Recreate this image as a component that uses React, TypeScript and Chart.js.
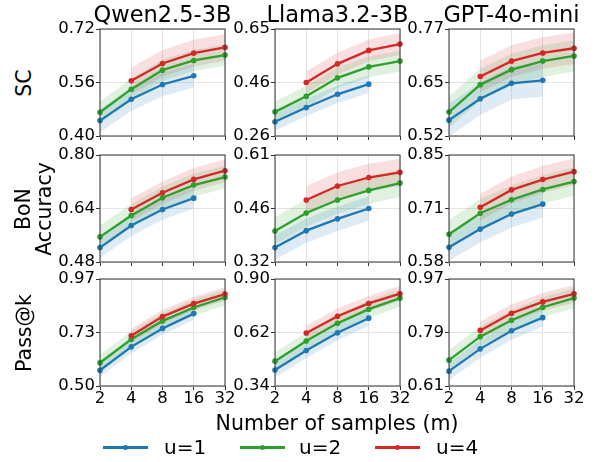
import React, { useEffect, useRef } from 'react';
import { Chart, registerables } from 'chart.js';
Chart.register(...registerables);
Chart.defaults.font.family = "'DejaVu Sans', sans-serif";

const X_LABELS = ['2', '4', '8', '16', '32'];
const MODELS = ['Qwen2.5-3B', 'Llama3.2-3B', 'GPT-4o-mini'];
const METRICS = [['SC'], ['BoN', 'Accuracy'], ['Pass@k']];
const SERIES_NAMES = ['u=1', 'u=2', 'u=4'];
const X_TITLE = 'Number of samples (m)';

// ---- SC ----
const qwenSC_u1 = [0.446, 0.51, 0.554, 0.58, null];
const qwenSC_u2 = [0.471, 0.54, 0.597, 0.626, 0.642];
const qwenSC_u4 = [null, 0.565, 0.617, 0.648, 0.665];
const qwenSC_band = [0.035, 0.032, 0.04];
const qwenSC_ticks = ['0.40', '0.56', '0.72'];

const llamaSC_u1 = [0.312, 0.364, 0.412, 0.449, null];
const llamaSC_u2 = [0.348, 0.405, 0.472, 0.512, 0.533];
const llamaSC_u4 = [null, 0.455, 0.523, 0.572, 0.595];
const llamaSC_band = [0.032, 0.038, 0.04];
const llamaSC_ticks = ['0.26', '0.46', '0.65'];

const gptSC_u1 = [0.557, 0.607, 0.643, 0.65, null];
const gptSC_u2 = [0.576, 0.64, 0.675, 0.695, 0.707];
const gptSC_u4 = [null, 0.659, 0.695, 0.714, 0.725];
const gptSC_band = [0.038, 0.037, 0.037];
const gptSC_ticks = ['0.52', '0.65', '0.77'];

// ---- BoN Accuracy ----
const qwenBoN_u1 = [0.523, 0.589, 0.637, 0.671, null];
const qwenBoN_u2 = [0.555, 0.619, 0.672, 0.71, 0.734];
const qwenBoN_u4 = [null, 0.637, 0.687, 0.727, 0.753];
const qwenBoN_band = [0.031, 0.034, 0.034];
const qwenBoN_ticks = ['0.48', '0.64', '0.80'];

const llamaBoN_u1 = [0.359, 0.405, 0.437, 0.465, null];
const llamaBoN_u2 = [0.404, 0.453, 0.488, 0.514, 0.534];
const llamaBoN_u4 = [null, 0.488, 0.526, 0.549, 0.563];
const llamaBoN_band = [0.033, 0.037, 0.037];
const llamaBoN_ticks = ['0.32', '0.46', '0.61'];

const gptBoN_u1 = [0.617, 0.663, 0.701, 0.726, null];
const gptBoN_u2 = [0.65, 0.703, 0.737, 0.763, 0.783];
const gptBoN_u4 = [null, 0.718, 0.762, 0.788, 0.808];
const gptBoN_band = [0.034, 0.036, 0.034];
const gptBoN_ticks = ['0.58', '0.71', '0.85'];

// ---- Pass@k ----
const qwenPass_u1 = [0.569, 0.672, 0.753, 0.818, null];
const qwenPass_u2 = [0.602, 0.705, 0.786, 0.845, 0.889];
const qwenPass_u4 = [null, 0.721, 0.805, 0.862, 0.904];
const qwenPass_band = [0.028, 0.035, 0.03];
const qwenPass_ticks = ['0.50', '0.73', '0.97'];

const llamaPass_u1 = [0.424, 0.526, 0.619, 0.695, null];
const llamaPass_u2 = [0.47, 0.575, 0.668, 0.742, 0.8];
const llamaPass_u4 = [null, 0.617, 0.705, 0.772, 0.823];
const llamaPass_band = [0.04, 0.045, 0.04];
const llamaPass_ticks = ['0.34', '0.62', '0.90'];

const gptPass_u1 = [0.66, 0.735, 0.796, 0.84, null];
const gptPass_u2 = [0.697, 0.776, 0.831, 0.875, 0.906];
const gptPass_u4 = [null, 0.797, 0.855, 0.893, 0.92];
const gptPass_band = [0.03, 0.034, 0.03];
const gptPass_ticks = ['0.61', '0.79', '0.97'];

const PANELS = [
  [
    { s: [qwenSC_u1, qwenSC_u2, qwenSC_u4], band: qwenSC_band, ticks: qwenSC_ticks },
    { s: [llamaSC_u1, llamaSC_u2, llamaSC_u4], band: llamaSC_band, ticks: llamaSC_ticks },
    { s: [gptSC_u1, gptSC_u2, gptSC_u4], band: gptSC_band, ticks: gptSC_ticks },
  ],
  [
    { s: [qwenBoN_u1, qwenBoN_u2, qwenBoN_u4], band: qwenBoN_band, ticks: qwenBoN_ticks },
    { s: [llamaBoN_u1, llamaBoN_u2, llamaBoN_u4], band: llamaBoN_band, ticks: llamaBoN_ticks },
    { s: [gptBoN_u1, gptBoN_u2, gptBoN_u4], band: gptBoN_band, ticks: gptBoN_ticks },
  ],
  [
    { s: [qwenPass_u1, qwenPass_u2, qwenPass_u4], band: qwenPass_band, ticks: qwenPass_ticks },
    { s: [llamaPass_u1, llamaPass_u2, llamaPass_u4], band: llamaPass_band, ticks: llamaPass_ticks },
    { s: [gptPass_u1, gptPass_u2, gptPass_u4], band: gptPass_band, ticks: gptPass_ticks },
  ],
];

const COLORS = ['#1f77b4', '#2ca02c', '#d62728'];
const FILLS = ['rgba(31,119,180,0.15)', 'rgba(44,160,44,0.15)', 'rgba(214,39,40,0.15)'];

const PLOT_LEFT = [100, 275, 449];
const PLOT_TOP = [29, 155, 279];
const PLOT_W = 125;
const PLOT_H = 107;
const PAD_L = 60;
const PAD_T = 12;
const PAD_R = 20;
const PAD_B = 30;

const framePlugin = {
  id: 'frame',
  afterDraw(chart: any) {
    const { ctx, chartArea: a } = chart;
    ctx.save();
    ctx.strokeStyle = '#333';
    ctx.lineWidth = 1;
    ctx.strokeRect(a.left, a.top, a.right - a.left, a.bottom - a.top);
    ctx.restore();
  },
};

function Panel({ row, col }: { row: number; col: number }) {
  const ref = useRef<HTMLCanvasElement>(null);
  useEffect(() => {
    const cfg = PANELS[row][col];
    const min = parseFloat(cfg.ticks[0]);
    const max = parseFloat(cfg.ticks[2]);
    const datasets: any[] = [];
    cfg.s.forEach((vals: any[], i: number) => {
      const b = cfg.band[i];
      const lowerIdx = datasets.length;
      datasets.push({
        data: vals.map((v) => (v == null ? null : v - b)),
        borderWidth: 0,
        borderColor: 'rgba(0,0,0,0)',
        pointRadius: 0,
        fill: false,
        order: 10,
      });
      datasets.push({
        data: vals.map((v) => (v == null ? null : v + b)),
        borderWidth: 0,
        borderColor: 'rgba(0,0,0,0)',
        backgroundColor: FILLS[i],
        pointRadius: 0,
        fill: lowerIdx,
        order: 10,
      });
    });
    cfg.s.forEach((vals: any[], i: number) => {
      datasets.push({
        label: SERIES_NAMES[i],
        data: vals,
        borderColor: COLORS[i],
        backgroundColor: COLORS[i],
        pointBackgroundColor: COLORS[i],
        borderWidth: 2.3,
        pointRadius: 2.8,
        pointBorderWidth: 0,
        fill: false,
        order: 3 - i,
      });
    });
    const chart = new Chart(ref.current as HTMLCanvasElement, {
      type: 'line',
      data: { labels: X_LABELS, datasets },
      plugins: [framePlugin],
      options: {
        animation: false,
        responsive: false,
        devicePixelRatio: 1,
        events: [],
        layout: { padding: { left: 0, top: PAD_T, right: PAD_R, bottom: 0 } },
        plugins: { legend: { display: false }, tooltip: { enabled: false } },
        scales: {
          x: {
            type: 'category',
            offset: false,
            border: { display: false },
            grid: { color: '#e4e4e4', tickColor: '#333', tickLength: 4, offset: false },
            ticks: {
              autoSkip: false,
              maxRotation: 0,
              padding: 0,
              color: '#000',
              font: { size: 16.5, lineHeight: 1.0 },
              callback: (v: any, i: number) => (row === 2 ? X_LABELS[i] : ''),
            },
            afterFit: (s: any) => {
              s.height = PAD_B;
            },
          },
          y: {
            type: 'linear',
            min,
            max,
            border: { display: false },
            grid: { color: '#e4e4e4', tickColor: '#333', tickLength: 4 },
            afterBuildTicks: (s: any) => {
              s.ticks = [{ value: min }, { value: (min + max) / 2 }, { value: max }];
            },
            ticks: {
              padding: 1,
              color: '#000',
              font: { size: 16.5 },
              callback: (v: any, i: number) => cfg.ticks[i],
            },
            afterFit: (s: any) => {
              s.width = PAD_L;
            },
          },
        },
      } as any,
    });
    return () => chart.destroy();
  }, [row, col]);
  const w = PAD_L + PLOT_W + PAD_R;
  const h = PAD_T + PLOT_H + PAD_B;
  return (
    <canvas
      ref={ref}
      width={w}
      height={h}
      style={{
        position: 'absolute',
        left: PLOT_LEFT[col] - PAD_L,
        top: PLOT_TOP[row] - PAD_T,
        width: w,
        height: h,
      }}
    />
  );
}

const textBase: React.CSSProperties = {
  position: 'absolute',
  fontFamily: "'DejaVu Sans', sans-serif",
  color: '#000',
  whiteSpace: 'nowrap',
};

export default function App() {
  const panels: any[] = [];
  for (let r = 0; r < 3; r++) for (let c = 0; c < 3; c++) panels.push(<Panel key={`${r}-${c}`} row={r} col={c} />);
  const legendX = [103, 240, 375];
  const legendTextX = [164, 299, 436];
  return (
    <div style={{ position: 'absolute', left: 0, top: 0, width: 597, height: 462, background: '#fff', overflow: 'hidden' }}>
      {panels}
      {MODELS.map((m, c) => (
        <div
          key={m}
          style={{ ...textBase, left: PLOT_LEFT[c] + PLOT_W / 2 - 100, width: 200, top: 3, fontSize: 22.5, lineHeight: '22px', textAlign: 'center' }}
        >
          {m}
        </div>
      ))}
      {METRICS.map((lines, r) => (
        <div
          key={r}
          style={{
            ...textBase,
            left: lines.length > 1 ? 34 : 24,
            top: PLOT_TOP[r] + PLOT_H / 2,
            fontSize: 20.5,
            lineHeight: '21px',
            textAlign: 'center',
            transform: 'translate(-50%, -50%) rotate(-90deg)',
          }}
        >
          {lines.map((l, i) => (
            <div key={i}>{l}</div>
          ))}
        </div>
      ))}
      <div style={{ ...textBase, left: 337 - 150, width: 300, top: 413, fontSize: 20.5, lineHeight: '20px', textAlign: 'center' }}>
        {X_TITLE}
      </div>
      {SERIES_NAMES.map((n, i) => (
        <React.Fragment key={n}>
          <div style={{ position: 'absolute', left: legendX[i], top: 446, width: 45, height: 2.5, background: COLORS[i] }} />
          <div
            style={{ position: 'absolute', left: legendX[i] + 22.5 - 2.75, top: 444.5, width: 5.5, height: 5.5, borderRadius: '50%', background: COLORS[i] }}
          />
          <div style={{ ...textBase, left: legendTextX[i], top: 437.5, fontSize: 20, lineHeight: '19px' }}>{n}</div>
        </React.Fragment>
      ))}
    </div>
  );
}
